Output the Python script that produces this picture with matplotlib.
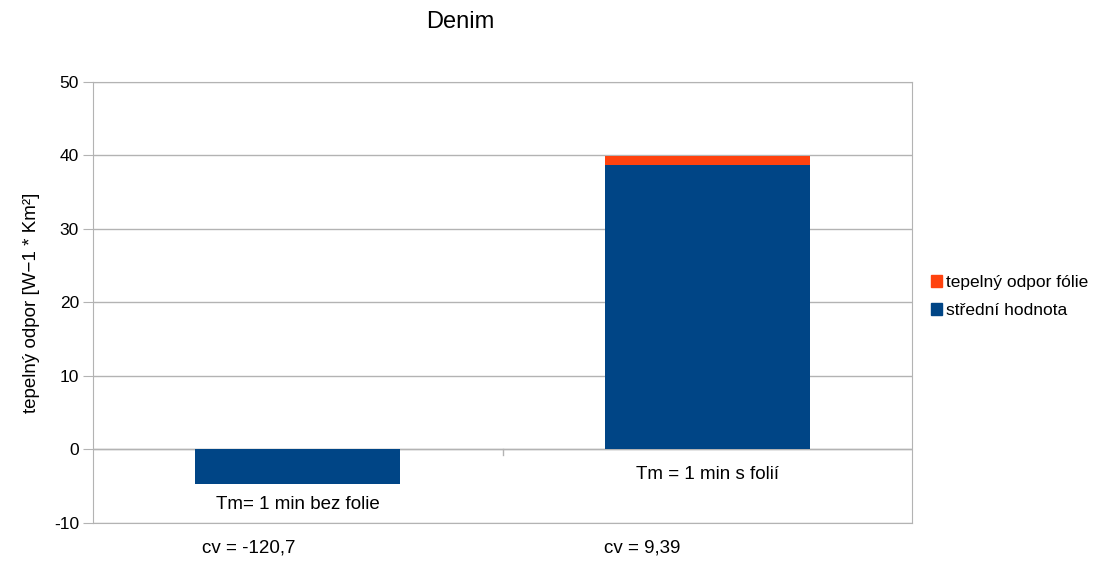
import matplotlib.pyplot as plt
import matplotlib.patches as mpatches

plt.rcParams["font.family"] = ["Liberation Sans", "DejaVu Sans"]
plt.rcParams["axes.unicode_minus"] = False

# Data
categories = ["Tm= 1 min bez folie", "Tm = 1 min s folií"]
cv_labels = ["cv = -120,7", "cv = 9,39"]
mean_value = [-4.7, 38.7]
foil_resist = [0.0, 1.2]

BLUE = "#004586"
ORANGE = "#ff420e"
GRID = "#b3b3b3"

fig = plt.figure(figsize=(11.04, 5.62), dpi=100)
ax = fig.add_axes([0.0842, 0.0694, 0.742, 0.785])

x = [0, 1]
ax.bar(x, mean_value, width=0.5, color=BLUE, zorder=3)
ax.bar(x, foil_resist, width=0.5, bottom=mean_value, color=ORANGE, zorder=3)

ax.set_xlim(-0.5, 1.5)
ax.set_ylim(-10, 50)
ax.set_yticks(range(-10, 51, 10))
ax.yaxis.grid(True, color=GRID, linewidth=1, zorder=0)
ax.axhline(0, color=GRID, linewidth=1, zorder=1)
for s in ax.spines.values():
    s.set_color(GRID)
ax.tick_params(axis="y", colors=GRID, labelcolor="#000000", labelsize=12.5, length=7, pad=3)
ax.set_xticks([])
# small category divider tick on the zero line
ax.plot([0.5, 0.5], [0, -0.8], color=GRID, linewidth=1, zorder=2)

# category labels sit under the bars
ax.text(x[0], mean_value[0] - 2.85, categories[0], ha="center", va="center", fontsize=13.5)
ax.text(x[1], -3.45, categories[1], ha="center", va="center", fontsize=13.5)

# variation coefficients below the plot
for xi, lab, dx in zip(x, cv_labels, [-0.12, -0.16]):
    ax.text(xi + dx, -13.4, lab, ha="center", va="center", fontsize=13.5, clip_on=False)

ax.set_ylabel("tepelný odpor [W−1 * Km²]", fontsize=13.5, labelpad=10)
fig.text(0.417, 0.961, "Denim", ha="center", va="center", fontsize=17)

handles = [mpatches.Patch(color=ORANGE, label="tepelný odpor fólie"),
           mpatches.Patch(color=BLUE, label="střední hodnota")]
fig.legend(handles=handles, loc="center left", bbox_to_anchor=(0.832, 0.472),
           frameon=False, fontsize=12.5, handlelength=0.65, handleheight=0.65,
           handletextpad=0.25, labelspacing=0.75, borderpad=0.2)

fig.savefig("out.png", dpi=100)
